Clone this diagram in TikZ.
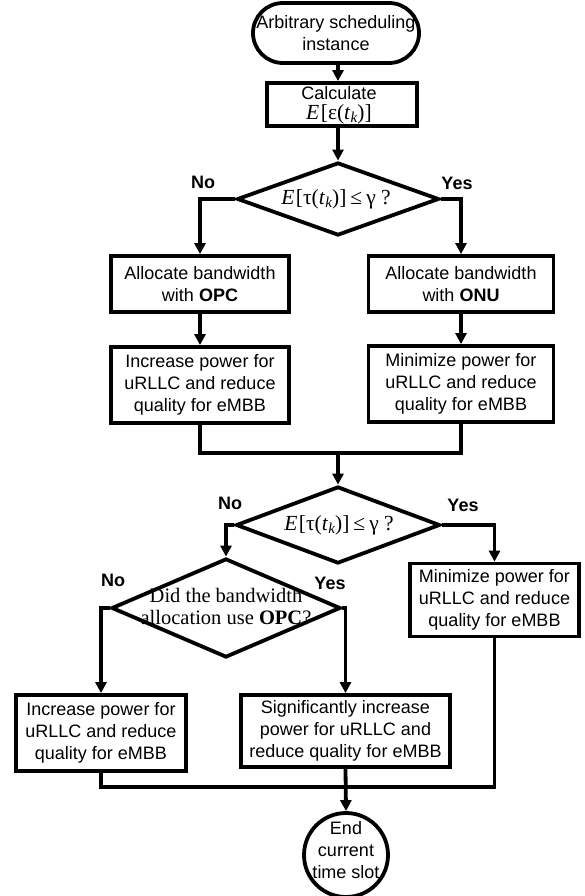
\documentclass[tikz,border=0pt]{standalone}
\usepackage[no-math]{fontspec}
\setmainfont{Liberation Sans}
\newfontfamily\serifd{Liberation Serif}
\usetikzlibrary{arrows.meta,shapes.geometric,calc}
\newcommand{\tsub}{\textit{t}\raisebox{-3pt}{\fontsize{15}{15}\selectfont\textit{k}}}
\newcommand{\expr}[1]{{\serifd\fontsize{21.5}{22}\selectfont\textit{E}\kern1.5pt[#1(\tsub)]}}
\newcommand{\cond}{{\serifd\fontsize{21.5}{22}\selectfont\kern4pt≤\kern4pt γ ?}}
\tikzset{
  flow/.style={line width=3.8pt, -{Triangle[length=11pt,width=11pt]}},
  plain/.style={line width=3.8pt},
  procbox/.style={draw, line width=3.8pt, rectangle, inner sep=0pt, align=center},
  decision/.style={draw, diamond, line width=3.8pt, inner sep=0pt},
  lbl/.style={font=\fontsize{18}{22}\selectfont\bfseries, inner sep=0pt},
  txt/.style={inner sep=0pt, align=center}
}
\begin{document}
\begin{tikzpicture}[x=1pt,y=-1pt,font=\fontsize{18}{22}\selectfont, line join=miter]
\useasboundingbox (0,0) rectangle (585,896);
% top
\node[procbox, rounded corners=30pt, minimum width=166pt, minimum height=60pt] (start) at (336,33) {Arbitrary scheduling\\instance};
\node[procbox, minimum width=150pt, minimum height=43pt] (calc) at (342,104.5) {};
\node[txt] (calct) at (339,105) {Calculate\\[-2pt]\expr{ε}};
\node[decision, minimum width=202pt, minimum height=73pt] (d1) at (338,199) {};
\node[txt] (d1t) at (336,199) {\expr{τ}\cond};
\node[lbl] (no1) at (203,182) {No};
\node[lbl] (yes1) at (457,183) {Yes};
% first branch boxes
\node[procbox, minimum width=178pt, minimum height=56pt] (L1) at (200,284) {Allocate bandwidth\\with \textbf{OPC}};
\node[procbox, minimum width=185pt, minimum height=56pt] (R1) at (461,284) {Allocate bandwidth\\with \textbf{ONU}};
\node[procbox, minimum width=178pt, minimum height=76pt] (L2) at (200,385) {Increase power for\\uRLLC and reduce\\quality for eMBB};
\node[procbox, minimum width=185pt, minimum height=76pt] (R2) at (461,384) {Minimize power for\\uRLLC and reduce\\quality for eMBB};
\coordinate (join1) at (338,453);
% second decision
\node[decision, minimum width=204pt, minimum height=77pt] (d2) at (338,525) {};
\node[txt] (d2t) at (339,525) {\expr{τ}\cond};
\node[lbl] (no2) at (230,503) {No};
\node[lbl] (yes2) at (463,505) {Yes};
\node[procbox, minimum width=169pt, minimum height=73pt] (R3) at (494.5,600) {Minimize power for\\uRLLC and reduce\\quality for eMBB};
% third decision
\node[decision, minimum width=229pt, minimum height=99pt] (d3) at (226,608) {};
\node[txt, font=\fontsize{20.5}{22}\selectfont\serifd] (d3t) at (226,607) {Did the bandwidth\\allocation use \textbf{OPC}?};
\node[lbl] (no3) at (113,580) {No};
\node[lbl] (yes3) at (330,583) {Yes};
% bottom boxes
\node[procbox, minimum width=170pt, minimum height=76pt] (L4) at (101,733) {Increase power for\\uRLLC and reduce\\quality for eMBB};
\node[procbox, minimum width=209pt, minimum height=72pt] (M4) at (345.5,731) {Significantly increase\\power for uRLLC and\\reduce quality for eMBB};
\coordinate (join2) at (345.5,787);
\node[draw, circle, line width=3.8pt, minimum size=84pt, inner sep=0pt, align=center] (endc) at (346,855) {};
\node[txt] (endt) at (346,850) {End\\current\\time slot};
% connectors
\draw[flow] (start.south -| d1.north) -- (calc.north -| d1.north);
\draw[flow] (calc.south -| d1.north) -- (d1.north);
\draw[flow] (d1.west) -| (L1.north);
\draw[flow] (d1.east) -| (R1.north);
\draw[flow] (L1.south) -- (L2.north);
\draw[flow] (R1.south) -- (R2.north);
\draw[plain] (L2.south) |- (join1) -| (R2.south);
\draw[flow] (join1) -- (d2.north);
\draw[flow] (d2.west) -| (d3.north);
\draw[flow] (d2.east) -| (R3.north);
\draw[flow] (d3.west) -| (L4.north);
\draw[flow] (d3.east) -| (M4.north);
\draw[plain] (L4.south) |- (join2) -| (R3.south);
\draw[flow] (M4.south) -- (endc.north);
\end{tikzpicture}
\end{document}
